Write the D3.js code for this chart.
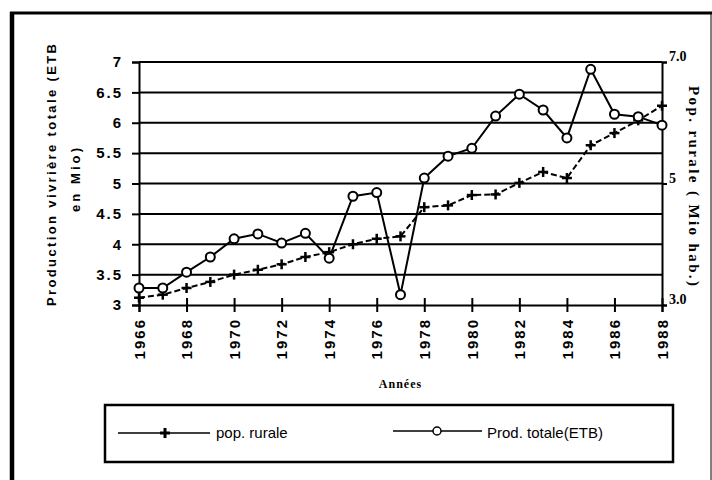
<!DOCTYPE html>
<html lang="fr">
<head>
<meta charset="UTF-8">
<title>Production vivrière et population rurale</title>
<script src="https://d3js.org/d3.v7.min.js"></script>
<style>
    body { margin: 0; background: #fff; }
    svg { display: block; }
    .tick text { font-family: "Liberation Sans", Arial, sans-serif; font-weight: bold; fill: #000; }
</style>
</head>
<body>
<svg id="chart" width="712" height="480"></svg>
<script>
// years on x axis
var years = d3.range(1966, 1989);
// Prod. totale (ETB), Mio -- left axis
var prodTotale = [3.28, 3.28, 3.54, 3.79, 4.09, 4.17, 4.02, 4.18, 3.77, 4.79, 4.85, 3.17,
                  5.09, 5.45, 5.58, 6.11, 6.47, 6.21, 5.75, 6.88, 6.14, 6.10, 5.96];
// pop. rurale, Mio hab. -- right axis
var popRurale = [3.12, 3.17, 3.28, 3.38, 3.50, 3.58, 3.67, 3.79, 3.87, 4.00, 4.09, 4.13,
                 4.61, 4.64, 4.81, 4.82, 5.01, 5.19, 5.09, 5.63, 5.83, 6.04, 6.28];
var leftTicks = [3, 3.5, 4, 4.5, 5, 5.5, 6, 6.5, 7];
var rightTicks = [3, 5, 7];
var xTicks = d3.range(1966, 1989, 2);

var svg = d3.select("#chart");
var plot = {left: 139, right: 662, top: 62, bottom: 305};

var x = d3.scaleLinear().domain([1966, 1988]).range([plot.left, plot.right]);
var y = d3.scaleLinear().domain([3, 7]).range([plot.bottom, plot.top]);
var y2 = d3.scaleLinear().domain([3, 7]).range([plot.bottom, plot.top]);

// outer frame
svg.append("line").attr("x1", 12).attr("x2", 12).attr("y1", 12).attr("y2", 480)
    .attr("stroke", "#000").attr("stroke-width", 4.5);
svg.append("line").attr("x1", 10).attr("x2", 712).attr("y1", 13).attr("y2", 13)
    .attr("stroke", "#000").attr("stroke-width", 3);
svg.append("line").attr("x1", 711).attr("x2", 711).attr("y1", 13).attr("y2", 480)
    .attr("stroke", "#000").attr("stroke-width", 1);

// gridlines
svg.append("g").selectAll("line").data(leftTicks.filter(function(d) { return d > 3; }))
    .enter().append("line")
    .attr("x1", plot.left).attr("x2", plot.right)
    .attr("y1", function(d) { return y(d); }).attr("y2", function(d) { return y(d); })
    .attr("stroke", "#000").attr("stroke-width", 2);

// left axis
var gl = svg.append("g").attr("transform", "translate(" + plot.left + ",0)")
    .call(d3.axisLeft(y).tickValues(leftTicks).tickSize(7).tickPadding(9)
        .tickFormat(function(d) { return d; }));
gl.selectAll("path, line").attr("stroke", "#000").attr("stroke-width", 2);
gl.selectAll("text").style("font-size", "15px").style("letter-spacing", "2px");

// right axis
var gr = svg.append("g").attr("transform", "translate(" + plot.right + ",0)")
    .call(d3.axisRight(y2).tickValues(rightTicks).tickSize(5).tickPadding(2)
        .tickFormat(function(d) { return d === 5 ? "5" : d3.format(".1f")(d); }));
gr.selectAll("path, line").attr("stroke", "#000").attr("stroke-width", 2);
gr.selectAll("text").style("font-family", "'Liberation Serif', 'Times New Roman', serif")
    .style("font-size", "14px").attr("dy", "-0.1em");

// x axis, labels turned vertical
var gx = svg.append("g").attr("transform", "translate(0," + plot.bottom + ")")
    .call(d3.axisBottom(x).tickValues(xTicks).tickSize(7).tickFormat(""));
gx.selectAll("path, line").attr("stroke", "#000").attr("stroke-width", 2);
gx.selectAll(".tick line").attr("y1", -7);
gx.selectAll(".tick text").remove();
gx.selectAll(".tick").append("text")
    .attr("transform", "translate(0,13) rotate(-90)")
    .attr("text-anchor", "end")
    .attr("dy", "0.35em")
    .style("font-size", "15px").style("letter-spacing", "2px")
    .text(function(d) { return d; });

// axis titles
svg.append("text")
    .attr("transform", "translate(56,175) rotate(-90)")
    .attr("text-anchor", "middle")
    .attr("textLength", 262).attr("lengthAdjust", "spacing")
    .style("font-family", "'Liberation Sans', Arial, sans-serif")
    .style("font-weight", "bold").style("font-size", "13px")
    .text("Production vivrière totale (ETB");
svg.append("text")
    .attr("transform", "translate(80,180) rotate(-90)")
    .attr("text-anchor", "middle")
    .attr("textLength", 64).attr("lengthAdjust", "spacing")
    .style("font-family", "'Liberation Sans', Arial, sans-serif")
    .style("font-weight", "bold").style("font-size", "13px")
    .text("en Mio)");
svg.append("text")
    .attr("transform", "translate(689,186) rotate(90)")
    .attr("text-anchor", "middle")
    .attr("textLength", 200).attr("lengthAdjust", "spacing")
    .style("font-family", "'Liberation Serif', 'Times New Roman', serif")
    .style("font-weight", "bold").style("font-size", "15px")
    .text("Pop. rurale ( Mio hab.)");
svg.append("text")
    .attr("x", (plot.left + plot.right) / 2).attr("y", 388)
    .attr("text-anchor", "middle")
    .style("font-family", "'Liberation Serif', 'Times New Roman', serif")
    .style("font-weight", "bold").style("font-size", "12px")
    .style("letter-spacing", "1px")
    .text("Années");

// series
var prodData = years.map(function(d, i) { return {year: d, v: prodTotale[i]}; });
var popData = years.map(function(d, i) { return {year: d, v: popRurale[i]}; });

var line1 = d3.line().x(function(d) { return x(d.year); }).y(function(d) { return y(d.v); });
var line2 = d3.line().x(function(d) { return x(d.year); }).y(function(d) { return y2(d.v); });

svg.append("path").datum(popData).attr("d", line2)
    .attr("fill", "none").attr("stroke", "#000").attr("stroke-width", 2)
    .attr("stroke-dasharray", "6,3");
svg.append("g").selectAll("g").data(popData).enter().append("g")
    .attr("transform", function(d) { return "translate(" + x(d.year) + "," + y2(d.v) + ")"; })
    .each(function() {
        var g = d3.select(this);
        g.append("line").attr("x1", -5).attr("x2", 5).attr("stroke", "#000").attr("stroke-width", 2.5);
        g.append("line").attr("y1", -5).attr("y2", 5).attr("stroke", "#000").attr("stroke-width", 2.5);
    });

svg.append("path").datum(prodData).attr("d", line1)
    .attr("fill", "none").attr("stroke", "#000").attr("stroke-width", 2);
svg.append("g").selectAll("circle").data(prodData).enter().append("circle")
    .attr("cx", function(d) { return x(d.year); })
    .attr("cy", function(d) { return y(d.v); })
    .attr("r", 4.5)
    .attr("fill", "#fff").attr("stroke", "#000").attr("stroke-width", 2);

// legend
var lg = svg.append("g");
lg.append("rect").attr("x", 105).attr("y", 405).attr("width", 568).attr("height", 57)
    .attr("fill", "none").attr("stroke", "#000").attr("stroke-width", 2.5);
lg.append("line").attr("x1", 118).attr("x2", 210).attr("y1", 433).attr("y2", 433)
    .attr("stroke", "#000").attr("stroke-width", 1.5);
lg.append("line").attr("x1", 160).attr("x2", 170).attr("y1", 433).attr("y2", 433)
    .attr("stroke", "#000").attr("stroke-width", 3);
lg.append("line").attr("x1", 165).attr("x2", 165).attr("y1", 428).attr("y2", 438)
    .attr("stroke", "#000").attr("stroke-width", 3);
lg.append("text").attr("x", 216).attr("y", 438)
    .style("font-family", "'Liberation Sans', Arial, sans-serif").style("font-size", "15px")
    .text("pop. rurale");
lg.append("line").attr("x1", 393).attr("x2", 482).attr("y1", 431).attr("y2", 431)
    .attr("stroke", "#000").attr("stroke-width", 1.5);
lg.append("circle").attr("cx", 437).attr("cy", 431).attr("r", 4)
    .attr("fill", "#fff").attr("stroke", "#000").attr("stroke-width", 1.5);
lg.append("text").attr("x", 487).attr("y", 438)
    .style("font-family", "'Liberation Sans', Arial, sans-serif").style("font-size", "15px")
    .text("Prod. totale(ETB)");
</script>
</body>
</html>
